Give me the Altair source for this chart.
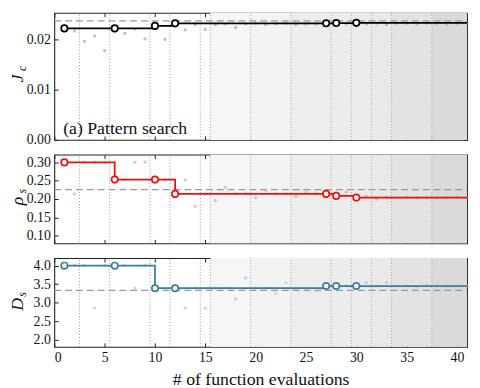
import altair as alt
import pandas as pd

# ---------------- data ----------------
evals = list(range(1, 42))

jc_trials = [0.0222, 0.0217, 0.0196, 0.0207, 0.0178, 0.0222, 0.0212, 0.0221, 0.0201, 0.0227,
             0.0200, 0.0232, 0.0219, 0.0230, 0.0220, 0.0230, 0.0231, 0.0224, 0.0231, 0.0232,
             0.0230, 0.0231, 0.0232, 0.0230, 0.0231, 0.0231, 0.02322, 0.02326, 0.0231, 0.0233,
             0.0231, 0.0232, 0.0230, 0.0232, 0.0232, 0.0231, 0.0232, 0.0232, 0.0231, 0.0232, 0.0232]

rho_trials = [0.300, 0.214, 0.300, 0.300, 0.300, 0.253, 0.253, 0.301, 0.301, 0.253,
              0.252, 0.214, 0.252, 0.180, 0.214, 0.196, 0.232, 0.215, 0.215, 0.204,
              0.223, 0.215, 0.215, 0.207, 0.218, 0.214, 0.214, 0.2085, 0.219, 0.204,
              0.208, 0.1995, 0.205, 0.204, 0.205, 0.204, 0.205, 0.204, 0.204, 0.205, 0.204]

ds_trials = [4.00, 4.00, 4.00, 2.85, 4.00, 4.00, 4.00, 3.39, 4.00, 3.39,
             3.39, 3.39, 2.85, 3.40, 2.85, 3.39, 3.39, 3.10, 3.67, 3.39,
             3.39, 3.245, 3.54, 3.39, 3.39, 3.32, 3.45, 3.45, 3.47, 3.45,
             3.54, 3.45, 3.54, 3.45, 3.46, 3.42, 3.48, 3.46, 3.46, 3.46, 3.46]

inc_evals = [1, 6, 10, 12, 27, 28, 30]
inc_jc = [0.0222, 0.0222, 0.0227, 0.0232, 0.02322, 0.02326, 0.0233]
inc_rho = [0.300, 0.253, 0.253, 0.214, 0.214, 0.2085, 0.204]
inc_ds = [4.00, 4.00, 3.39, 3.39, 3.45, 3.45, 3.45]
last_eval = 41

ref_jc = 0.0237
ref_rho = 0.2255
ref_ds = 3.333

iter_bounds = [2.5, 5.5, 9.5, 11.5, 14.5, 15.5, 19.5, 23.5, 27.5, 29.5, 31.5, 33.5, 37.5]
band_start = [15.5, 19.5, 23.5, 27.5, 29.5, 31.5, 33.5, 37.5]
band_end = [19.5, 23.5, 27.5, 29.5, 31.5, 33.5, 37.5, 41]
band_color = ["#f6f6f6", "#f3f3f3", "#ededed", "#ececec", "#ebebeb", "#e9e9e9", "#e3e3e3", "#dadada"]

x_ticks = [0, 5, 10, 15, 20, 25, 30, 35, 40]
jc_ticks = [0.0, 0.01, 0.02]
rho_ticks = [0.10, 0.15, 0.20, 0.25, 0.30]
ds_ticks = [2.0, 2.5, 3.0, 3.5, 4.0]

SERIF = "Liberation Serif"
W = 419
FRAME = "#222222"
X_DOMAIN = [0, 41]


def axis(orient, values, labels, fmt=None, title=None, title_pad=0):
    kw = dict(orient=orient, values=values, labels=labels, ticks=True, tickSize=4,
              offset=-4, domain=False, grid=False, tickColor=FRAME, tickWidth=1,
              labelFont=SERIF, labelFontSize=14, labelColor="#111", labelPadding=4)
    if fmt:
        kw["format"] = fmt
    if title:
        kw.update(title=title, titleFont=SERIF, titleFontSize=18, titleFontWeight="normal",
                  titleColor="#111", titlePadding=title_pad)
    else:
        kw["title"] = None
    return alt.Axis(**kw)


def panel(trials, inc_vals, ref, line_col, faint_col, faint_op, domain, yticks, yfmt,
          height, letter, sub, x_labels, annotation=None):
    xs = alt.Scale(domain=X_DOMAIN, nice=False, zero=False)
    ys = alt.Scale(domain=domain, nice=False, zero=False)
    px_x = (X_DOMAIN[1] - X_DOMAIN[0]) / W
    px_y = (domain[1] - domain[0]) / height
    mid_y = (domain[0] + domain[1]) / 2

    bands = pd.DataFrame({"x0": band_start, "x1": band_end, "c": band_color,
                          "y0": domain[0], "y1": domain[1]})
    vr = pd.DataFrame({"x": iter_bounds, "y0": domain[0], "y1": domain[1]})
    trial_df = pd.DataFrame({"x": evals, "y": trials})
    line_df = pd.DataFrame({"x": inc_evals + [last_eval], "y": inc_vals + [inc_vals[-1]]})
    inc_df = pd.DataFrame({"x": inc_evals, "y": inc_vals})
    ref_df = pd.DataFrame({"x": [X_DOMAIN[0]], "x2": [X_DOMAIN[1]], "y": [ref]})
    title_df = pd.DataFrame({"t": [letter, sub],
                             "x": [-37 * px_x, -33 * px_x],
                             "y": [mid_y - 2 * px_y, mid_y + 8 * px_y],
                             "s": [18, 12]})

    if x_labels:
        bottom_axis = axis("bottom", x_ticks, True, "d", "# of function evaluations", 6)
    else:
        bottom_axis = axis("bottom", x_ticks, False)

    X = lambda f, ax=None: alt.X(f, type="quantitative", scale=xs, axis=ax)
    Y = lambda f, ax=None: alt.Y(f, type="quantitative", scale=ys, axis=ax)

    l_bands = alt.Chart(bands).mark_rect().encode(
        x=X("x0", bottom_axis), x2="x1:Q", y=Y("y0"), y2="y1:Q",
        color=alt.Color("c:N", scale=None))
    l_vr = alt.Chart(vr).mark_rule(color="#9a9a9a", strokeDash=[1, 2], strokeWidth=1).encode(
        x=X("x", axis("top", x_ticks, False)), y=Y("y0"), y2="y1:Q")
    l_ref = alt.Chart(ref_df).mark_rule(color="#9a9a9a", strokeDash=[7, 4], strokeWidth=1.3).encode(
        x=X("x"), x2="x2:Q", y=Y("y", axis("right", yticks, False)))
    l_trials = alt.Chart(trial_df).mark_circle(size=11, color=faint_col, opacity=faint_op).encode(
        x=X("x"), y=Y("y", axis("left", yticks, True, yfmt)))
    l_line = alt.Chart(line_df).mark_line(color=line_col, strokeWidth=1.8,
                                          interpolate="step-after").encode(x=X("x"), y=Y("y"))
    l_inc = alt.Chart(inc_df).mark_point(shape="circle", size=42, filled=True, fill="white",
                                         stroke=line_col, strokeWidth=1.7, opacity=1).encode(
        x=X("x"), y=Y("y"))
    l_title = alt.Chart(title_df).mark_text(
        font=SERIF, fontStyle="italic", angle=270, align="center",
        baseline="middle", color="#111").encode(
        x=X("x"), y=Y("y"), text="t:N", size=alt.Size("s:Q", scale=None, legend=None))

    layers = [l_bands, l_vr, l_ref, l_trials, l_line, l_inc, l_title]
    if annotation:
        ann_df = pd.DataFrame({"t": [annotation], "x": [9 * px_x], "y": [domain[0] + 6 * px_y]})
        layers.append(alt.Chart(ann_df).mark_text(
            font=SERIF, fontSize=18, align="left", baseline="alphabetic", color="#111").encode(
            x=X("x"), y=Y("y"), text="t:N"))

    return alt.layer(*layers).resolve_axis(x="independent", y="independent").properties(
        width=W, height=height)


top = panel(jc_trials, inc_jc, ref_jc, "#000000", "#9e9e9e", 0.65, [0, 0.0253], jc_ticks,
            ".2f", 129, "J", "c", False, "(a) Pattern search")
mid = panel(rho_trials, inc_rho, ref_rho, "#ee1111", "#f08080", 0.5, [0.079, 0.321],
            rho_ticks, ".2f", 90, "ρ", "s", False)
bot = panel(ds_trials, inc_ds, ref_ds, "#3a7fa0", "#9cc5da", 0.6, [1.805, 4.205],
            ds_ticks, ".1f", 90, "D", "s", True)

chart = alt.vconcat(top, mid, bot, spacing=15, bounds="flush").configure(
    background="white", padding=0, font=SERIF,
    view=alt.ViewConfig(stroke=FRAME, strokeWidth=1.1))

chart.save("out.html", embed_options={"renderer": "svg", "actions": False})
